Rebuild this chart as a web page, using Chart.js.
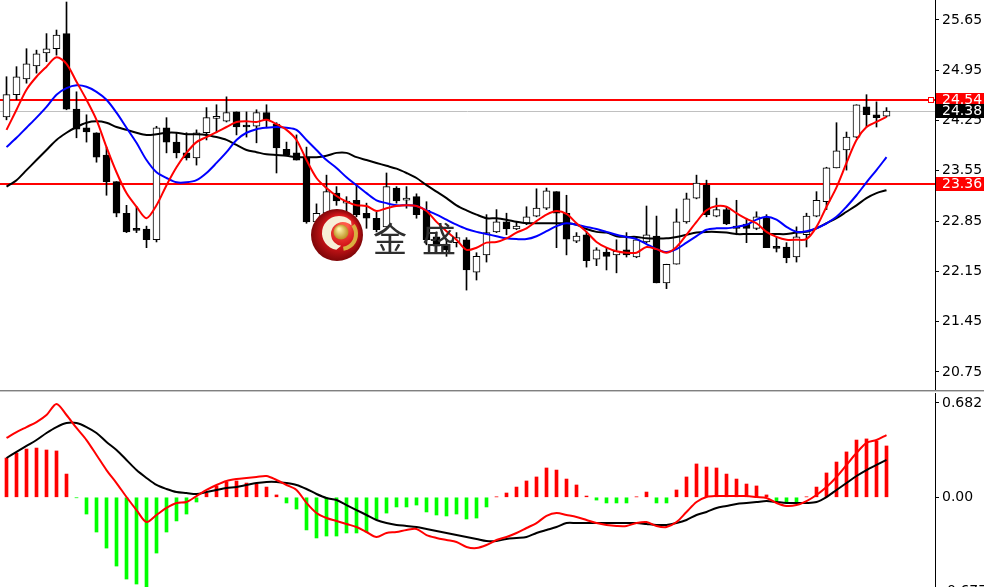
<!DOCTYPE html>
<html>
<head>
<meta charset="utf-8">
<script src="https://cdn.jsdelivr.net/npm/chart.js@4/dist/chart.umd.min.js"></script>
<style>
  html, body { margin: 0; padding: 0; background: #fff; }
  #wrap { position: relative; width: 984px; height: 587px; overflow: hidden; background: #fff; }
  #price { position: absolute; left: 0; top: 0; }
  #sep { position: absolute; left: 0; top: 390px; width: 984px; height: 1px; background: #808080; border-bottom: 1px solid #c8c8c8; }
  #macd { position: absolute; left: 0; top: 393px; }
</style>
</head>
<body>
<div id="wrap">
  <canvas id="price" width="984" height="390"></canvas>
  <div id="sep"></div>
  <canvas id="macd" width="984" height="194"></canvas>
</div>
<script>
// candles (oldest -> newest)
var opens  = [24.30,24.61,24.83,25.01,25.19,25.25,25.46,24.41,24.15,24.08,23.77,23.40,22.96,22.73,22.74,22.59,24.15,23.95,23.80,23.73,
              24.08,24.28,24.24,24.37,24.17,24.17,24.36,24.20,23.85,23.80,23.74,22.84,22.96,23.24,23.10,23.14,22.96,22.89,22.77,23.31,
              23.14,23.19,23.00,22.63,22.53,22.55,22.59,22.14,22.38,22.70,22.84,22.74,22.82,22.92,23.03,23.26,22.96,22.57,22.66,22.32,
              22.42,22.38,22.45,22.35,22.56,22.64,21.99,22.25,22.84,23.17,23.35,22.92,23.01,22.78,22.81,22.75,22.89,22.48,22.49,22.35,
              22.66,22.92,23.12,23.59,23.84,24.02,24.44,24.33,24.31];
var highs  = [24.86,25.00,25.25,25.23,25.46,25.51,25.90,24.65,24.33,24.08,23.88,23.40,23.07,23.05,22.78,24.17,24.29,24.08,24.08,24.12,
              24.43,24.47,24.58,24.37,24.37,24.40,24.47,24.22,23.95,24.05,23.88,23.09,23.49,23.33,23.19,23.35,23.10,22.98,23.52,23.33,
              23.33,23.23,23.12,22.70,22.59,22.69,22.62,22.41,22.94,23.01,22.96,22.84,23.05,23.30,23.31,23.26,23.21,22.69,22.70,22.48,
              22.48,22.59,22.69,22.62,23.06,22.92,22.25,23.02,23.24,23.49,23.42,23.17,23.05,23.14,22.89,22.98,22.94,22.63,22.55,22.77,
              22.96,23.26,23.60,24.22,24.09,24.47,24.61,24.51,24.43];
var lows   = [24.26,24.54,24.77,24.91,25.07,25.16,24.40,24.01,23.95,23.67,23.21,22.91,22.69,22.69,22.48,22.56,23.80,23.73,23.70,23.63,
              23.98,24.08,24.23,24.05,24.02,23.94,24.16,23.52,23.76,23.70,22.82,22.84,22.96,23.07,22.82,22.91,22.75,22.70,22.77,23.10,
              23.03,22.89,22.52,22.42,22.36,22.49,21.89,22.03,22.28,22.69,22.66,22.73,22.80,22.91,23.01,22.48,22.38,22.55,22.21,22.23,
              22.17,22.13,22.35,22.34,22.55,21.99,21.91,22.25,22.82,23.16,22.91,22.91,22.80,22.66,22.55,22.73,22.48,22.42,22.27,22.28,
              22.49,22.91,23.01,23.59,23.56,24.01,24.16,24.16,24.30];
var closes = [24.61,24.86,25.04,25.18,25.25,25.44,24.41,24.13,24.09,23.74,23.40,22.96,22.70,22.72,22.59,24.15,23.95,23.80,23.73,24.08,
              24.29,24.29,24.36,24.16,24.16,24.36,24.26,23.87,23.77,23.70,22.84,22.96,23.26,23.13,23.11,22.94,22.89,22.73,23.33,23.13,
              23.17,22.94,22.59,22.50,22.45,22.62,22.17,22.36,22.69,22.84,22.74,22.78,22.91,23.03,23.27,22.96,22.60,22.64,22.30,22.45,
              22.36,22.43,22.38,22.59,22.66,21.99,22.25,22.84,23.16,23.38,22.94,23.01,22.81,22.75,22.75,22.91,22.48,22.47,22.34,22.63,
              22.92,23.14,23.59,23.83,24.02,24.47,24.33,24.29,24.38];
// moving averages
var maFast = [24.12,24.40,24.68,24.86,25.00,25.13,25.04,24.79,24.54,24.26,23.88,23.53,23.24,23.05,22.89,23.07,23.35,23.60,23.80,23.95,
              24.02,24.09,24.16,24.23,24.24,24.23,24.26,24.20,24.12,23.98,23.70,23.45,23.31,23.20,23.12,23.07,23.06,22.99,23.03,23.06,
              23.07,23.06,22.99,22.84,22.71,22.59,22.45,22.48,22.55,22.56,22.61,22.69,22.75,22.85,22.94,22.99,22.95,22.82,22.70,22.56,
              22.48,22.43,22.41,22.41,22.49,22.46,22.41,22.49,22.66,22.84,23.00,23.06,23.05,22.96,22.88,22.82,22.70,22.63,22.59,22.59,
              22.60,22.77,23.05,23.32,23.66,23.98,24.16,24.23,24.30];
var maMid  = [23.88,24.01,24.15,24.29,24.44,24.61,24.70,24.74,24.72,24.65,24.54,24.36,24.15,23.94,23.70,23.53,23.45,23.39,23.39,23.42,
              23.52,23.66,23.81,23.98,24.08,24.13,24.15,24.16,24.15,24.12,23.98,23.84,23.70,23.59,23.46,23.35,23.24,23.14,23.10,23.07,
              23.07,23.06,23.00,22.94,22.87,22.80,22.74,22.70,22.67,22.64,22.61,22.60,22.60,22.64,22.71,22.78,22.82,22.80,22.77,22.74,
              22.70,22.66,22.63,22.60,22.53,22.46,22.42,22.46,22.55,22.64,22.73,22.75,22.75,22.77,22.80,22.87,22.91,22.87,22.77,22.70,
              22.71,22.75,22.82,22.91,23.05,23.21,23.39,23.56,23.74];
var maSlow = [23.33,23.42,23.56,23.70,23.84,23.98,24.08,24.16,24.22,24.24,24.22,24.16,24.12,24.08,24.05,24.06,24.08,24.08,24.06,24.06,
              24.05,24.02,23.98,23.91,23.84,23.81,23.78,23.77,23.76,23.74,23.74,23.74,23.76,23.80,23.80,23.74,23.70,23.66,23.62,23.58,
              23.52,23.45,23.35,23.26,23.17,23.07,23.00,22.94,22.89,22.89,22.87,22.84,22.82,22.82,22.82,22.82,22.82,22.80,22.74,22.70,
              22.69,22.64,22.63,22.63,22.61,22.61,22.61,22.63,22.66,22.69,22.70,22.70,22.69,22.67,22.67,22.67,22.67,22.67,22.67,22.69,
              22.70,22.75,22.82,22.89,22.98,23.07,23.17,23.24,23.28];
// MACD panel
var macdHist = [0.284,0.320,0.349,0.356,0.342,0.335,0.168,-0.003,-0.121,-0.251,-0.367,-0.497,-0.591,-0.627,-0.660,-0.403,-0.251,-0.171,-0.121,-0.034,
                0.031,0.082,0.111,0.118,0.103,0.096,0.074,0.017,-0.041,-0.085,-0.236,-0.294,-0.280,-0.280,-0.258,-0.258,-0.251,-0.157,-0.114,-0.070,
                -0.070,-0.056,-0.106,-0.128,-0.135,-0.121,-0.157,-0.150,-0.070,0.003,0.031,0.074,0.118,0.147,0.212,0.197,0.132,0.089,0.009,-0.020,
                -0.041,-0.041,-0.041,0.003,0.038,-0.041,-0.041,0.053,0.147,0.241,0.219,0.212,0.168,0.132,0.096,0.082,0.017,-0.034,-0.034,-0.034,
                0.003,0.074,0.176,0.255,0.328,0.414,0.422,0.407,0.371];
var macdDif = [0.429,0.472,0.508,0.544,0.595,0.675,0.595,0.501,0.414,0.306,0.197,0.103,0.002,-0.092,-0.179,-0.128,-0.077,-0.041,-0.034,0.009,
               0.053,0.089,0.118,0.132,0.140,0.147,0.154,0.125,0.089,0.053,-0.041,-0.114,-0.150,-0.171,-0.193,-0.215,-0.251,-0.287,-0.258,-0.251,
               -0.236,-0.229,-0.273,-0.294,-0.309,-0.323,-0.359,-0.367,-0.345,-0.309,-0.287,-0.258,-0.222,-0.186,-0.135,-0.114,-0.128,-0.142,-0.164,-0.186,
               -0.200,-0.207,-0.207,-0.186,-0.179,-0.207,-0.215,-0.179,-0.106,-0.034,0.002,0.009,0.009,0.009,0.009,0.002,-0.005,-0.041,-0.063,-0.056,
               -0.027,0.017,0.074,0.147,0.234,0.320,0.393,0.414,0.450];
var macdDea = [0.284,0.328,0.371,0.414,0.465,0.508,0.537,0.537,0.508,0.465,0.400,0.342,0.270,0.197,0.140,0.089,0.060,0.038,0.031,0.024,
               0.038,0.053,0.067,0.074,0.089,0.103,0.111,0.111,0.103,0.089,0.060,0.024,-0.005,-0.020,-0.056,-0.092,-0.128,-0.164,-0.186,-0.200,
               -0.207,-0.215,-0.229,-0.244,-0.258,-0.273,-0.287,-0.301,-0.316,-0.316,-0.301,-0.294,-0.287,-0.258,-0.236,-0.215,-0.186,-0.186,-0.186,-0.186,
               -0.186,-0.186,-0.186,-0.186,-0.193,-0.200,-0.200,-0.186,-0.164,-0.128,-0.106,-0.077,-0.063,-0.048,-0.041,-0.034,-0.027,-0.034,-0.041,-0.041,
               -0.041,-0.034,0.002,0.053,0.103,0.154,0.197,0.234,0.270];
// axis and levels
var priceTicks = [20.75,21.45,22.15,22.85,23.55,24.25,24.95,25.65];
var levels = [24.54, 23.36];
var lastPrice = 24.38;
var macdTicks = [0, 0.682];
var macdLow = -0.677;

var idx = closes.map(function (c, i) { return i; });
var FONT = '14px "DejaVu Sans"';

function xScale() {
  return { type: 'linear', display: false, min: -0.65, max: 92.85, offset: false };
}
function yAxis(min, max, ticks, fmt) {
  return {
    position: 'right', min: min, max: max,
    border: { display: true, color: '#000', width: 1 },
    grid: { drawOnChartArea: false, drawTicks: true, tickLength: 4, color: '#000' },
    ticks: { color: '#000', font: { family: 'DejaVu Sans', size: 14 }, padding: 3, autoSkip: false, callback: fmt },
    afterBuildTicks: function (s) { s.ticks = ticks.map(function (v) { return { value: v }; }); },
    afterFit: function (s) { s.width = 49; s.paddingTop = 0; s.paddingBottom = 0; }
  };
}
function line(data, color, order) {
  return { type: 'line', data: idx.map(function (i) { return { x: i, y: data[i] }; }),
           borderColor: color, borderWidth: 2, pointRadius: 0, tension: 0.3, order: order };
}

function drawLogo(ctx) {
  var cx = 337, cy = 235, r = 26;
  var g = ctx.createRadialGradient(cx + 8, cy - 10, 3, cx, cy, r);
  g.addColorStop(0, '#ff5a4a'); g.addColorStop(0.55, '#d4161a'); g.addColorStop(1, '#7e0608');
  ctx.fillStyle = g;
  ctx.beginPath(); ctx.arc(cx, cy, r, 0, Math.PI * 2); ctx.fill();
  ctx.fillStyle = '#f7efd8';
  ctx.beginPath(); ctx.arc(cx + 2, cy - 2, 17, Math.PI * 0.55, Math.PI * 1.75); ctx.arc(cx + 6, cy - 1, 12, Math.PI * 1.75, Math.PI * 0.55, true); ctx.fill();
  ctx.strokeStyle = '#d9b040'; ctx.lineWidth = 4;
  ctx.beginPath(); ctx.arc(cx + 4, cy - 1, 15, -Math.PI * 0.2, Math.PI * 0.45); ctx.stroke();
  var gb = ctx.createRadialGradient(cx + 2, cy - 6, 1, cx + 4, cy - 3, 8);
  gb.addColorStop(0, '#fff2a8'); gb.addColorStop(1, '#b88a18');
  ctx.fillStyle = gb;
  ctx.beginPath(); ctx.arc(cx + 4, cy - 3, 7.5, 0, Math.PI * 2); ctx.fill();
  ctx.fillStyle = '#2e2e2e';
  ctx.font = '34px "Noto Sans CJK SC"';
  ctx.textBaseline = 'alphabetic';
  ctx.fillText('金', 373, 252);
  ctx.fillText('盛', 422, 252);
}

function tag(ctx, y, text, bg) {
  ctx.fillStyle = bg;
  ctx.fillRect(936, Math.round(y) - 7, 48, 14);
  ctx.fillStyle = '#fff';
  ctx.font = FONT;
  ctx.textBaseline = 'middle';
  ctx.textAlign = 'left';
  ctx.fillText(text, 942, Math.round(y) + 0.5);
}

var priceDecor = {
  id: 'priceDecor',
  beforeDatasetsDraw: function (chart) {
    var ctx = chart.ctx, a = chart.chartArea, y = chart.scales.y;
    ctx.save();
    var yl = Math.round(y.getPixelForValue(lastPrice)) + 0.5;
    ctx.strokeStyle = '#c0c0c0'; ctx.lineWidth = 1;
    ctx.beginPath(); ctx.moveTo(a.left, yl); ctx.lineTo(a.right, yl); ctx.stroke();
    ctx.strokeStyle = '#ff0000'; ctx.lineWidth = 2;
    levels.forEach(function (v) {
      var p = Math.round(y.getPixelForValue(v));
      ctx.beginPath(); ctx.moveTo(a.left, p); ctx.lineTo(a.right, p); ctx.stroke();
    });
    ctx.restore();
  },
  afterDatasetsDraw: function (chart) {
    var ctx = chart.ctx, y = chart.scales.y;
    ctx.save();
    drawLogo(ctx);
    var p = Math.round(y.getPixelForValue(levels[0]));
    ctx.fillStyle = '#fff'; ctx.fillRect(928, p - 3, 6, 6);
    ctx.strokeStyle = '#ff0000'; ctx.lineWidth = 1; ctx.strokeRect(928.5, p - 2.5, 5, 5);
    ctx.restore();
  },
  afterDraw: function (chart) {
    var ctx = chart.ctx, y = chart.scales.y;
    ctx.save();
    tag(ctx, y.getPixelForValue(levels[0]), levels[0].toFixed(2), '#ff0000');
    tag(ctx, y.getPixelForValue(lastPrice), lastPrice.toFixed(2), '#000');
    tag(ctx, y.getPixelForValue(levels[1]), levels[1].toFixed(2), '#ff0000');
    ctx.restore();
  }
};

new Chart(document.getElementById('price'), {
  type: 'bar',
  data: {
    datasets: [
      line(maFast, '#ff0000', 0),
      line(maMid, '#0000ff', 1),
      line(maSlow, '#000000', 2),
      { type: 'bar', order: 3, grouped: false, barThickness: 7, minBarLength: 2,
        data: idx.map(function (i) { return { x: i, y: [opens[i], closes[i]] }; }),
        backgroundColor: idx.map(function (i) { return closes[i] >= opens[i] ? '#ffffff' : '#000000'; }),
        borderColor: '#000', borderWidth: 1, borderSkipped: false },
      { type: 'bar', order: 4, grouped: false, barThickness: 1,
        data: idx.map(function (i) { return { x: i, y: [lows[i], highs[i]] }; }),
        backgroundColor: '#000', borderWidth: 0 }
    ]
  },
  options: {
    responsive: false, devicePixelRatio: 1, animation: false,
    layout: { padding: 0 },
    plugins: { legend: { display: false }, tooltip: { enabled: false } },
    scales: {
      x: xScale(),
      y: yAxis(20.499, 25.928, priceTicks, function (v) { return v.toFixed(2); })
    }
  },
  plugins: [priceDecor]
});

var macdDecor = {
  id: 'macdDecor',
  afterDraw: function (chart) {
    var ctx = chart.ctx, y = chart.scales.y;
    ctx.save();
    ctx.fillStyle = '#000'; ctx.font = FONT; ctx.textBaseline = 'middle';
    ctx.fillText(macdLow.toFixed(3), 942, y.getPixelForValue(macdLow));
    ctx.restore();
  }
};

new Chart(document.getElementById('macd'), {
  type: 'bar',
  data: {
    datasets: [
      { type: 'line', order: 0, data: idx.map(function (i) { return { x: i, y: macdDif[i] }; }),
        borderColor: '#ff0000', borderWidth: 2, pointRadius: 0, tension: 0.3 },
      { type: 'line', order: 1, data: idx.map(function (i) { return { x: i, y: macdDea[i] }; }),
        borderColor: '#000000', borderWidth: 2, pointRadius: 0, tension: 0.3 },
      { type: 'bar', order: 2, grouped: false, barThickness: 3,
        data: idx.map(function (i) { return { x: i, y: macdHist[i] }; }),
        backgroundColor: macdHist.map(function (v) { return v >= 0 ? '#ff0000' : '#00ff00'; }),
        borderWidth: 0 }
    ]
  },
  options: {
    responsive: false, devicePixelRatio: 1, animation: false,
    layout: { padding: 0 },
    plugins: { legend: { display: false }, tooltip: { enabled: false } },
    scales: {
      x: xScale(),
      y: yAxis(-0.6485, 0.754, macdTicks, function (v) { return v === 0 ? '0.00' : v.toFixed(3); })
    }
  },
  plugins: [macdDecor]
});
</script>
</body>
</html>
